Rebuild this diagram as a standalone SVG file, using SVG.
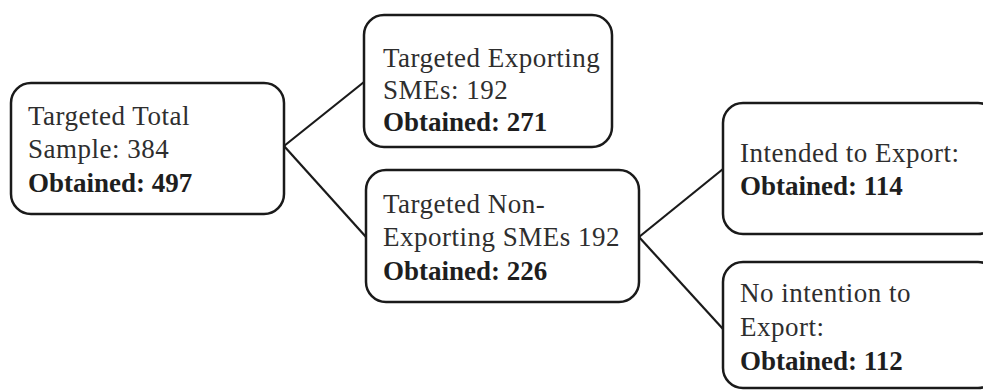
<svg xmlns="http://www.w3.org/2000/svg" width="983" height="390" viewBox="0 0 983 390">
  <style>
    .box { fill: #ffffff; stroke: #1a1a1a; stroke-width: 2.5; }
    .link { fill: none; stroke: #1a1a1a; stroke-width: 2.2; }
    text { font-family: "Liberation Serif", "Times New Roman", serif; font-size: 27px; fill: #2e2e2e; letter-spacing: 0.5px; }
    .b { font-weight: bold; fill: #1e1e1e; letter-spacing: 0; }
  </style>
  <rect width="983" height="390" fill="#ffffff"/>

  <g id="connectors">
    <path class="link" d="M284,146 L364,82"/>
    <path class="link" d="M284,146 L366,237"/>
    <path class="link" d="M639,237 L723,169"/>
    <path class="link" d="M639,237 L723,329"/>
  </g>

  <g id="total">
    <rect class="box" x="11" y="83" width="273" height="131" rx="20"/>
    <text x="28" y="125">Targeted Total</text>
    <text x="28" y="158">Sample: 384</text>
    <text x="28" y="192" class="b">Obtained: 497</text>
  </g>

  <g id="exporting">
    <rect class="box" x="364" y="15" width="248" height="132" rx="20"/>
    <text x="383" y="67">Targeted Exporting</text>
    <text x="383" y="99">SMEs: 192</text>
    <text x="383" y="131" class="b">Obtained: 271</text>
  </g>

  <g id="non-exporting">
    <rect class="box" x="366" y="170" width="273" height="132" rx="20"/>
    <text x="383" y="213">Targeted Non-</text>
    <text x="383" y="246">Exporting SMEs 192</text>
    <text x="383" y="280" class="b">Obtained: 226</text>
  </g>

  <g id="intended">
    <rect class="box" x="723" y="103" width="275" height="131" rx="20"/>
    <text x="740" y="162">Intended to Export:</text>
    <text x="740" y="195" class="b">Obtained: 114</text>
  </g>

  <g id="no-intention">
    <rect class="box" x="723" y="262" width="275" height="126" rx="20"/>
    <text x="740" y="302">No intention to</text>
    <text x="740" y="336">Export:</text>
    <text x="740" y="370" class="b">Obtained: 112</text>
  </g>
</svg>
